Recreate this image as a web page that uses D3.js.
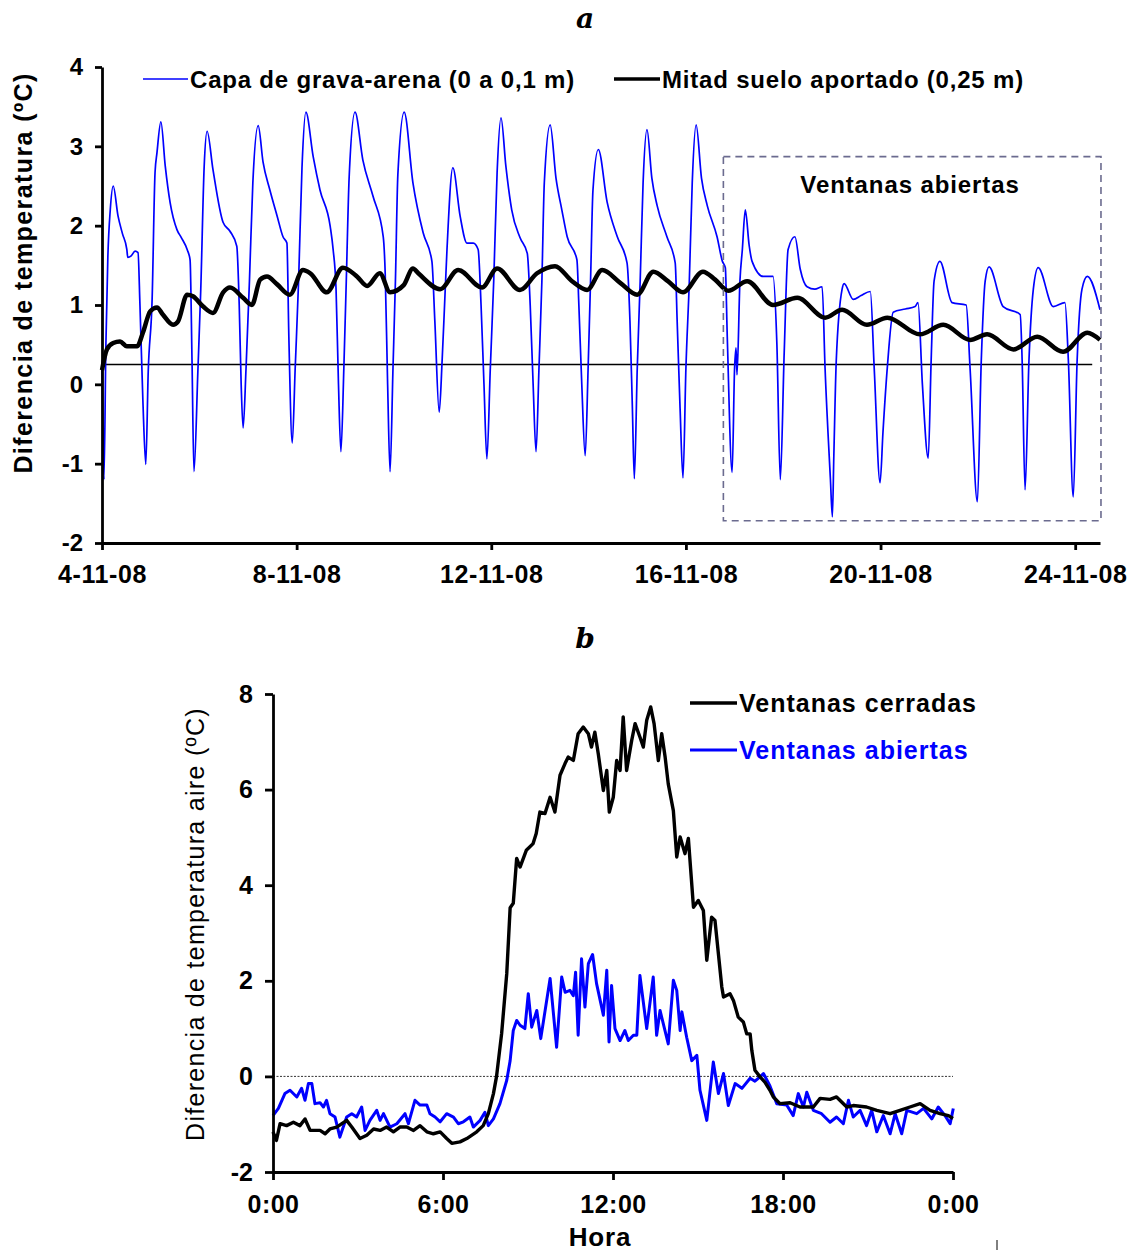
<!DOCTYPE html>
<html><head><meta charset="utf-8">
<script src="https://cdn.jsdelivr.net/npm/d3@7"></script>
<style>
html,body{margin:0;padding:0;background:#fff;}
svg text{font-family:"Liberation Sans",Arial,sans-serif;}
</style></head>
<body>
<svg id="chart" width="1133" height="1251"></svg>
<script>
// ---------- Panel a data (day of November 2008, temperature difference ºC) ----------
const gravaArena = [
[4.00,0.20],[4.02,-0.6],[4.04,-1.20],[4.08,0.5],[4.12,1.6],[4.17,2.2],[4.23,2.50],[4.33,2.12],[4.42,1.9],[4.51,1.70],[4.53,1.60],[4.60,1.62],[4.68,1.68],[4.74,1.66],[4.78,1.0],[4.84,-0.2],[4.90,-1.01],
[4.95,0.16],[5.03,1.07],[5.09,2.67],[5.13,2.92],[5.21,3.31],[5.30,2.75],[5.40,2.29],[5.54,1.95],[5.63,1.85],[5.75,1.70],[5.81,1.57],[5.85,0.3],[5.89,-1.10],
[5.97,0.16],[6.03,1.2],[6.10,2.75],[6.16,3.19],[6.28,2.71],[6.49,2.04],[6.63,1.93],[6.77,1.74],[6.82,1.0],[6.86,0.0],[6.90,-0.55],
[6.96,0.2],[7.03,1.3],[7.10,2.54],[7.21,3.26],[7.31,2.80],[7.45,2.45],[7.60,2.12],[7.72,1.86],[7.80,1.78],[7.84,0.6],[7.91,-0.74],
[7.97,0.2],[8.04,1.3],[8.11,2.73],[8.19,3.43],[8.34,2.87],[8.48,2.45],[8.69,1.99],[8.75,1.70],[8.81,1.2],[8.86,0.0],[8.91,-0.85],
[8.97,0.2],[9.02,1.3],[9.08,2.62],[9.20,3.43],[9.36,2.83],[9.57,2.37],[9.78,1.86],[9.82,1.4],[9.87,0.0],[9.92,-1.10],
[9.98,0.2],[10.03,1.3],[10.08,2.64],[10.21,3.43],[10.39,2.54],[10.60,1.91],[10.78,1.55],[10.84,0.8],[10.93,-0.35],
[10.99,0.3],[11.04,1.0],[11.09,1.70],[11.21,2.73],[11.36,2.12],[11.50,1.78],[11.63,1.78],[11.73,1.70],[11.79,1.0],[11.85,0.0],[11.91,-0.94],
[11.98,0.2],[12.05,1.3],[12.12,2.67],[12.20,3.36],[12.30,2.75],[12.42,2.2],[12.59,1.85],[12.74,1.65],[12.80,1.0],[12.86,0.0],[12.92,-0.85],
[12.98,0.2],[13.04,1.3],[13.09,2.54],[13.21,3.27],[13.33,2.6],[13.45,2.2],[13.56,1.86],[13.76,1.57],[13.80,1.0],[13.86,0.0],[13.93,-0.90],
[13.99,0.2],[14.04,1.3],[14.09,2.45],[14.20,2.96],[14.38,2.3],[14.59,1.86],[14.79,1.53],[14.85,0.8],[14.90,-0.3],[14.94,-1.19],
[15.00,0.2],[15.06,1.3],[15.12,2.54],[15.20,3.21],[15.30,2.6],[15.41,2.25],[15.61,1.86],[15.78,1.53],[15.82,0.8],[15.88,-0.3],[15.94,-1.18],
[16.00,0.2],[16.07,1.3],[16.13,2.54],[16.21,3.27],[16.32,2.6],[16.44,2.25],[16.64,1.86],[16.75,1.55],[16.81,1.47],[16.85,0.6],[16.95,-1.11],
[17.00,0.2],[17.03,0.46],[17.05,0.12],[17.11,1.3],[17.16,1.7],[17.22,2.20],[17.30,1.75],[17.36,1.55],[17.59,1.36],[17.79,1.36],[17.87,0.5],[17.94,-1.20],
[18.02,0.4],[18.10,1.7],[18.24,1.86],[18.35,1.45],[18.49,1.23],[18.65,1.2],[18.80,1.23],[18.86,0.2],[18.97,-1.2],[19.01,-1.67],[19.04,-0.9],
[19.09,0.3],[19.21,1.2],[19.25,1.27],[19.44,1.07],[19.60,1.12],[19.79,1.17],[19.87,0.2],[19.99,-1.24],
[20.05,-0.6],[20.14,0.22],[20.26,0.91],[20.51,0.95],[20.71,0.98],[20.77,1.03],[20.86,0.0],[20.98,-0.93],
[21.04,0.3],[21.10,1.3],[21.22,1.55],[21.47,1.03],[21.76,1.0],[21.84,0.2],[21.99,-1.48],
[22.07,0.3],[22.15,1.3],[22.23,1.48],[22.52,0.98],[22.87,0.88],[22.91,0.3],[22.97,-1.33],
[23.05,0.3],[23.14,1.2],[23.24,1.47],[23.55,0.98],[23.79,1.03],[23.86,0.3],[23.96,-1.42],
[24.04,0.3],[24.14,1.2],[24.25,1.36],[24.51,0.94]
];
const mitadSuelo = [
[4.00,0.18],[4.10,0.44],[4.23,0.52],[4.37,0.54],[4.51,0.48],[4.72,0.48],[4.84,0.65],[4.99,0.92],[5.13,0.97],[5.25,0.88],[5.46,0.75],[5.56,0.79],
[5.75,1.13],[5.87,1.11],[6.08,0.98],[6.28,0.90],[6.49,1.16],[6.63,1.22],[6.90,1.09],[7.08,1.00],[7.25,1.32],[7.39,1.36],[7.60,1.26],[7.86,1.13],
[8.13,1.44],[8.28,1.40],[8.62,1.16],[8.95,1.47],[9.24,1.36],[9.45,1.24],[9.71,1.40],[9.92,1.16],[10.20,1.25],[10.39,1.46],[10.50,1.40],
[10.95,1.20],[11.32,1.44],[11.81,1.22],[12.12,1.46],[12.59,1.19],[12.94,1.40],[13.31,1.49],[13.66,1.30],[13.97,1.19],[14.28,1.44],[14.65,1.28],
[15.00,1.13],[15.33,1.42],[15.63,1.30],[15.94,1.16],[16.35,1.42],[16.60,1.32],[16.87,1.18],[17.26,1.30],[17.79,1.00],[18.29,1.09],[18.86,0.84],
[19.21,0.94],[19.72,0.75],[20.14,0.84],[20.81,0.63],[21.29,0.75],[21.84,0.56],[22.19,0.63],[22.73,0.44],[23.22,0.60],[23.75,0.41],[24.25,0.65],[24.51,0.56]
];
const refLevelA = 0.25;          // horizontal reference line value
const refEndA = 24.35;           // day where the reference line ends
const boxDays = [16.77, 24.53];  // "Ventanas abiertas" period
const boxVals = [-1.72, 2.87];
const xTicksA = [4, 8, 12, 16, 20, 24];
const yTicksA = [-2, -1, 0, 1, 2, 3, 4];

// ---------- Panel b data (hour, air temperature difference ºC) ----------
const cerradas = [
[0.0,-1.16],[0.12,-1.34],[0.25,-0.99],[0.48,-1.03],[0.72,-0.96],[0.95,-1.03],[1.13,-0.89],[1.31,-1.13],[1.66,-1.13],[1.84,-1.20],[2.01,-1.10],[2.25,-1.06],
[2.60,-0.92],[2.78,-1.06],[3.07,-1.30],[3.31,-1.23],[3.55,-1.10],[3.78,-1.13],[4.01,-1.06],[4.25,-1.16],[4.48,-1.06],[4.72,-1.06],[4.96,-1.13],[5.19,-1.03],
[5.43,-1.16],[5.66,-1.20],[5.90,-1.16],[6.13,-1.30],[6.31,-1.40],[6.60,-1.37],[6.84,-1.30],[7.19,-1.16],[7.42,-1.03],[7.60,-0.78],[7.78,-0.36],[7.89,0.0],
[8.07,0.9],[8.25,2.15],[8.37,3.53],[8.48,3.62],[8.60,4.56],[8.72,4.38],[8.94,4.73],[9.18,4.87],[9.29,5.08],[9.42,5.53],[9.60,5.50],[9.78,5.84],[9.95,5.53],
[10.13,6.30],[10.31,6.55],[10.42,6.68],[10.60,6.61],[10.77,7.17],[10.95,7.31],[11.13,7.17],[11.24,6.89],[11.36,7.20],[11.48,6.75],[11.66,5.98],[11.78,6.40],
[11.87,5.53],[12.01,5.84],[12.13,6.61],[12.25,6.40],[12.36,7.52],[12.48,6.40],[12.66,7.03],[12.78,7.38],[12.95,7.10],[13.07,6.89],[13.19,7.45],[13.33,7.73],
[13.45,7.38],[13.60,6.61],[13.72,7.17],[13.84,6.68],[13.95,6.12],[14.13,5.56],[14.25,4.59],[14.37,5.01],[14.54,4.66],[14.66,4.98],[14.84,3.54],[15.01,3.68],
[15.19,3.47],[15.31,2.43],[15.48,3.33],[15.60,3.26],[15.84,1.87],[15.90,1.66],[16.13,1.73],[16.25,1.59],[16.42,1.24],[16.60,1.14],[16.72,0.89],[16.84,0.89],
[16.90,0.54],[17.01,0.13],[17.19,-0.01],[17.36,-0.12],[17.54,-0.29],[17.66,-0.43],[17.89,-0.57],[18.25,-0.55],[18.60,-0.64],[19.07,-0.64],[19.31,-0.46],
[19.66,-0.48],[19.89,-0.43],[20.25,-0.64],[20.48,-0.61],[20.95,-0.64],[21.31,-0.71],[21.78,-0.78],[22.13,-0.71],[22.48,-0.64],[22.84,-0.57],[23.19,-0.71],
[23.54,-0.78],[23.84,-0.82],[24.0,-0.88]
];
const abiertas = [
[0.0,-0.82],[0.19,-0.67],[0.42,-0.36],[0.60,-0.29],[0.84,-0.43],[1.01,-0.25],[1.13,-0.50],[1.25,-0.15],[1.37,-0.15],[1.48,-0.57],[1.66,-0.55],[1.78,-0.64],
[1.89,-0.50],[2.01,-0.78],[2.19,-0.85],[2.36,-1.27],[2.60,-0.85],[2.78,-0.78],[2.95,-0.85],[3.13,-0.64],[3.25,-1.13],[3.42,-0.92],[3.66,-0.71],[3.78,-0.92],
[3.90,-0.78],[4.13,-1.06],[4.37,-0.99],[4.66,-0.78],[4.78,-0.99],[5.01,-0.50],[5.19,-0.6],[5.43,-0.6],[5.54,-0.78],[5.72,-0.85],[5.90,-0.95],[6.13,-0.78],
[6.37,-0.85],[6.54,-0.99],[6.72,-0.95],[6.95,-0.85],[7.07,-1.06],[7.31,-0.92],[7.48,-0.75],[7.60,-1.03],[7.78,-0.89],[8.01,-0.57],[8.25,-0.08],[8.37,0.33],
[8.48,0.96],[8.60,1.17],[8.72,1.07],[8.89,1.00],[9.01,1.73],[9.13,1.03],[9.31,1.38],[9.45,0.79],[9.78,2.05],[10.01,0.61],[10.19,2.08],[10.31,1.76],[10.48,1.80],
[10.60,1.69],[10.68,2.18],[10.77,0.86],[10.89,2.46],[11.01,1.45],[11.13,2.36],[11.28,2.55],[11.42,1.94],[11.66,1.28],[11.78,2.22],[11.86,0.72],[11.95,1.90],
[12.07,1.00],[12.25,0.75],[12.42,0.96],[12.54,0.75],[12.72,0.86],[12.84,0.86],[12.95,2.11],[13.19,1.00],[13.42,2.08],[13.54,0.86],[13.66,1.38],[13.95,0.68],
[14.13,2.01],[14.25,1.80],[14.37,0.96],[14.43,1.35],[14.60,0.82],[14.78,0.33],[14.96,0.44],[15.07,-0.29],[15.31,-0.92],[15.54,0.30],[15.72,-0.36],[15.90,0.06],
[16.07,-0.61],[16.31,-0.15],[16.55,-0.25],[16.84,-0.04],[17.01,-0.10],[17.19,-0.01],[17.31,0.06],[17.54,-0.20],[17.78,-0.57],[18.13,-0.60],[18.36,-0.82],
[18.54,-0.36],[18.72,-0.64],[18.84,-0.33],[19.07,-0.71],[19.36,-0.78],[19.66,-0.96],[19.89,-0.85],[20.13,-0.99],[20.31,-0.50],[20.48,-0.85],[20.72,-0.71],
[20.95,-1.03],[21.13,-0.71],[21.31,-1.16],[21.54,-0.82],[21.78,-1.20],[21.96,-0.78],[22.19,-1.20],[22.37,-0.71],[22.72,-0.78],[22.96,-0.67],[23.25,-0.89],
[23.48,-0.64],[23.72,-0.82],[23.90,-0.99],[24.01,-0.67]
];
const xTicksB = [0, 6, 12, 18, 24];
const yTicksB = [-2, 0, 2, 4, 6, 8];

const BLUE = "#0000ff";
const svg = d3.select("#chart");
const bold = sel => sel.style("font-weight", "bold");

// ---------- Panel a ----------
const xA = d3.scaleLinear().domain([4, 24.51]).range([102, 1100]);
const yA = d3.scaleLinear().domain([-2, 4]).range([543, 67]);

svg.append("text").attr("x", 585).attr("y", 28).attr("text-anchor", "middle")
  .style("font-family", "'DejaVu Serif','Liberation Serif',serif").style("font-style", "italic").style("font-weight", "bold")
  .style("font-size", "28px").text("a");

// reference line
svg.append("line").attr("x1", xA(4)).attr("x2", xA(refEndA)).attr("y1", yA(refLevelA)).attr("y2", yA(refLevelA))
  .attr("stroke", "#000").attr("stroke-width", 1.5);

const lineBlueA = d3.line().x(d => xA(d[0])).y(d => yA(d[1])).curve(d3.curveMonotoneX);
const lineBlackA = d3.line().x(d => xA(d[0])).y(d => yA(d[1])).curve(d3.curveMonotoneX);
svg.append("path").datum(gravaArena).attr("d", lineBlueA).attr("fill", "none").attr("stroke", BLUE).attr("stroke-width", 1.7);
svg.append("path").datum(mitadSuelo).attr("d", lineBlackA).attr("fill", "none").attr("stroke", "#000").attr("stroke-width", 4.5).attr("stroke-linejoin", "round");

// dashed box
svg.append("rect").attr("x", xA(boxDays[0])).attr("y", yA(boxVals[1]))
  .attr("width", xA(boxDays[1]) - xA(boxDays[0])).attr("height", yA(boxVals[0]) - yA(boxVals[1]))
  .attr("fill", "none").attr("stroke", "#6b6b8f").attr("stroke-width", 1.6).attr("stroke-dasharray", "7,5");
bold(svg.append("text").attr("x", 910).attr("y", 193).attr("text-anchor", "middle"))
  .style("font-size", "24px").style("letter-spacing", "0.9px").text("Ventanas abiertas");

// axes a
const axAx = svg.append("g").attr("transform", `translate(0,${yA(-2)})`)
  .call(d3.axisBottom(xA).tickValues(xTicksA).tickFormat(d => `${d}-11-08`).tickSize(7).tickSizeOuter(0));
const axAy = svg.append("g").attr("transform", `translate(${xA(4)},0)`)
  .call(d3.axisLeft(yA).tickValues(yTicksA).tickFormat(d => String(d)).tickSize(7).tickSizeOuter(0));
[axAx, axAy].forEach(g => {
  g.select(".domain").attr("stroke", "#000").attr("stroke-width", 2.8);
  g.selectAll(".tick line").attr("stroke", "#000").attr("stroke-width", 2.8);
  g.selectAll(".tick text").style("font-family", "'Liberation Sans',Arial,sans-serif").style("font-weight", "bold").attr("fill", "#000");
});
axAx.selectAll(".tick text").style("font-size", "25px").style("letter-spacing", "0.6px").attr("y", 22);
axAy.selectAll(".tick text").style("font-size", "24px").attr("x", -19);

bold(svg.append("text").attr("transform", "translate(32,273) rotate(-90)").attr("text-anchor", "middle"))
  .style("font-size", "25px").style("letter-spacing", "1.4px").text("Diferencia de temperatura (ºC)");

// legend a
svg.append("line").attr("x1", 143).attr("x2", 188).attr("y1", 79).attr("y2", 79).attr("stroke", BLUE).attr("stroke-width", 1.7);
bold(svg.append("text").attr("x", 190).attr("y", 88)).style("font-size", "24px").style("letter-spacing", "0.8px").text("Capa de grava-arena (0 a 0,1 m)");
svg.append("line").attr("x1", 614).attr("x2", 660).attr("y1", 79).attr("y2", 79).attr("stroke", "#000").attr("stroke-width", 3.5);
bold(svg.append("text").attr("x", 662).attr("y", 88)).style("font-size", "24px").style("letter-spacing", "0.8px").text("Mitad suelo aportado (0,25 m)");

// ---------- Panel b ----------
const xB = d3.scaleLinear().domain([0, 24]).range([273, 953]);
const yB = d3.scaleLinear().domain([-2, 8]).range([1172, 694]);

svg.append("text").attr("x", 585).attr("y", 648).attr("text-anchor", "middle")
  .style("font-family", "'DejaVu Serif','Liberation Serif',serif").style("font-style", "italic").style("font-weight", "bold")
  .style("font-size", "28px").text("b");

svg.append("line").attr("x1", xB(0)).attr("x2", xB(24)).attr("y1", yB(0)).attr("y2", yB(0))
  .attr("stroke", "#333").attr("stroke-width", 1).attr("stroke-dasharray", "2,1.5");

const lineB = d3.line().x(d => xB(d[0])).y(d => yB(d[1]));
svg.append("path").datum(abiertas).attr("d", lineB).attr("fill", "none").attr("stroke", BLUE).attr("stroke-width", 3).attr("stroke-linejoin", "round");
svg.append("path").datum(cerradas).attr("d", lineB).attr("fill", "none").attr("stroke", "#000").attr("stroke-width", 3.4).attr("stroke-linejoin", "round");

const axBx = svg.append("g").attr("transform", `translate(0,${yB(-2)})`)
  .call(d3.axisBottom(xB).tickValues(xTicksB).tickFormat(d => `${d % 24}:00`).tickSize(8).tickSizeOuter(0));
const axBy = svg.append("g").attr("transform", `translate(${xB(0)},0)`)
  .call(d3.axisLeft(yB).tickValues(yTicksB).tickFormat(d => String(d)).tickSize(8).tickSizeOuter(0));
[axBx, axBy].forEach(g => {
  g.select(".domain").attr("stroke", "#000").attr("stroke-width", 2.8);
  g.selectAll(".tick line").attr("stroke", "#000").attr("stroke-width", 2.8);
  g.selectAll(".tick text").style("font-family", "'Liberation Sans',Arial,sans-serif").style("font-weight", "bold").style("font-size", "25px").attr("fill", "#000");
});
axBx.selectAll(".tick text").style("letter-spacing", "0.5px").attr("y", 23);
axBy.selectAll(".tick text").attr("x", -20);

bold(svg.append("text").attr("x", 600).attr("y", 1246).attr("text-anchor", "middle"))
  .style("font-size", "26px").style("letter-spacing", "0.8px").text("Hora");
svg.append("text").attr("transform", "translate(204,924) rotate(-90)").attr("text-anchor", "middle")
  .style("font-size", "25px").style("letter-spacing", "1.3px").text("Diferencia de temperatura aire (ºC)");

// legend b
svg.append("line").attr("x1", 690).attr("x2", 737).attr("y1", 703).attr("y2", 703).attr("stroke", "#000").attr("stroke-width", 3.4);
bold(svg.append("text").attr("x", 739).attr("y", 712)).style("font-size", "25px").style("letter-spacing", "1px").text("Ventanas cerradas");
svg.append("line").attr("x1", 690).attr("x2", 737).attr("y1", 750).attr("y2", 750).attr("stroke", BLUE).attr("stroke-width", 3);
bold(svg.append("text").attr("x", 739).attr("y", 759).attr("fill", BLUE)).style("font-size", "25px").style("letter-spacing", "1px").text("Ventanas abiertas");

// stray mark at bottom right
svg.append("line").attr("x1", 997).attr("x2", 997).attr("y1", 1240).attr("y2", 1250).attr("stroke", "#000").attr("stroke-width", 1);
</script>
</body></html>
